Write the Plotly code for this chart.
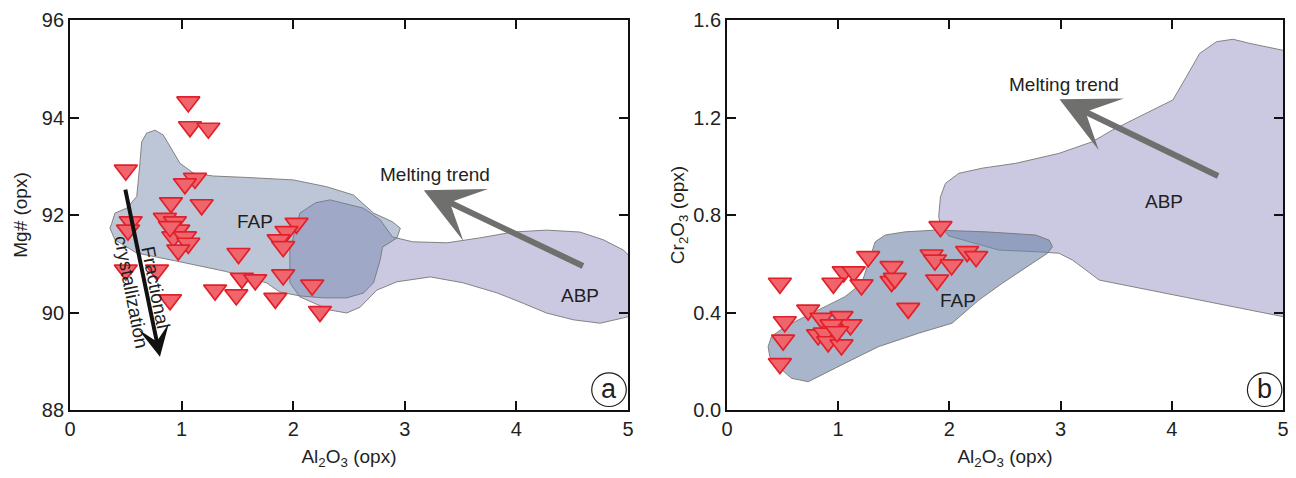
import plotly.graph_objects as go

# ---------------- data ----------------
# Panel a: Al2O3 (opx) vs Mg# (opx)
a_al2o3 = [1.06, 1.075, 1.24, 0.50, 1.12, 1.03, 1.18, 0.905, 0.544, 0.52, 0.85, 0.94, 0.97,
           0.926, 1.03, 1.06, 0.97, 0.896, 1.51, 2.03, 1.94, 1.87, 1.91, 0.50, 0.78, 1.54,
           1.66, 1.91, 2.17, 1.30, 1.49, 1.84, 0.896, 2.24]
a_mg = [94.32, 93.81, 93.78, 92.92, 92.75, 92.64, 92.21, 92.25, 91.86, 91.69, 91.93, 91.86, 91.69,
        91.55, 91.55, 91.42, 91.28, 91.76, 91.21, 91.83, 91.66, 91.49, 91.35, 90.87, 90.87, 90.70,
        90.67, 90.77, 90.56, 90.46, 90.36, 90.29, 90.26, 90.02]

# Panel b: Al2O3 (opx) vs Cr2O3 (opx)
b_al2o3 = [1.92, 0.476, 1.27, 1.05, 1.14, 0.957, 1.21, 1.48, 1.48, 1.51, 1.84, 1.87, 2.02, 2.16,
           2.24, 1.89, 1.63, 0.73, 0.52, 0.505, 0.476, 0.85, 1.03, 1.11, 0.94, 0.82, 0.88, 0.91,
           1.03, 0.99]
b_cr2o3 = [0.752, 0.52, 0.629, 0.567, 0.567, 0.52, 0.513, 0.588, 0.527, 0.54, 0.636, 0.615, 0.595,
           0.65, 0.629, 0.533, 0.417, 0.41, 0.362, 0.287, 0.19, 0.376, 0.383, 0.349, 0.349, 0.308,
           0.315, 0.28, 0.267, 0.321]

# Field outlines (panel a)
fap_a_x = [0.374, 0.403, 0.508, 0.598, 0.627, 0.642, 0.687, 0.762, 0.836, 0.896, 0.986, 1.105, 1.284,
           1.583, 2.0, 2.30, 2.54, 2.72, 2.89, 2.96, 2.93, 2.80, 2.78, 2.72, 2.63, 2.48, 2.27, 2.06,
           1.88, 1.76, 1.40, 0.986, 0.598, 0.403, 0.358, 0.374]
fap_a_y = [91.83, 92.04, 92.14, 92.38, 93.07, 93.50, 93.68, 93.74, 93.64, 93.40, 93.06, 92.86, 92.80,
           92.77, 92.72, 92.58, 92.41, 92.04, 91.86, 91.73, 91.53, 91.34, 91.08, 90.61, 90.40, 90.30,
           90.30, 90.34, 90.42, 90.61, 90.84, 91.04, 91.22, 91.49, 91.73, 91.83]
abp_a_x = [2.33, 2.63, 2.78, 2.89, 3.07, 3.38, 3.67, 3.97, 4.27, 4.57, 4.78, 4.96, 5.06, 5.06, 4.96,
           4.75, 4.51, 4.27, 4.06, 3.83, 3.52, 3.23, 2.93, 2.75, 2.60, 2.48, 2.33, 2.06, 1.97, 1.97,
           2.06, 2.20, 2.33]
abp_a_y = [92.31, 92.14, 91.90, 91.55, 91.45, 91.43, 91.53, 91.65, 91.69, 91.65, 91.49, 91.28, 91.04,
           89.95, 89.89, 89.78, 89.85, 89.99, 90.19, 90.40, 90.61, 90.73, 90.63, 90.46, 90.11, 89.99,
           90.05, 90.32, 90.61, 91.28, 92.04, 92.25, 92.31]

# Field outlines (panel b)
fap_b_x = [0.370, 0.400, 0.521, 0.821, 1.062, 1.212, 1.302, 1.333, 1.423, 1.604, 1.875, 2.326, 2.777,
           2.897, 2.927, 2.882, 2.746, 2.476, 2.265, 2.024, 1.724, 1.363, 1.062, 0.821, 0.731, 0.580,
           0.460, 0.385, 0.370]
fap_b_y = [0.260, 0.301, 0.342, 0.410, 0.465, 0.520, 0.643, 0.690, 0.718, 0.731, 0.738, 0.731, 0.718,
           0.697, 0.670, 0.643, 0.602, 0.520, 0.451, 0.356, 0.315, 0.260, 0.192, 0.137, 0.116, 0.130,
           0.178, 0.219, 0.260]
abp_b_x = [1.904, 1.92, 1.965, 2.085, 2.295, 2.597, 2.987, 3.288, 3.468, 3.770, 4.010, 4.131, 4.251,
           4.402, 4.551, 4.702, 4.853, 5.003, 5.06, 5.06, 5.003, 4.702, 4.251, 3.80, 3.348, 3.228,
           3.107, 2.987, 2.834, 2.446, 2.145, 1.995, 1.922, 1.904]
abp_b_y = [0.793, 0.875, 0.930, 0.971, 0.992, 1.012, 1.053, 1.101, 1.149, 1.217, 1.272, 1.367, 1.463,
           1.511, 1.521, 1.504, 1.490, 1.477, 1.47, 0.377, 0.383, 0.410, 0.451, 0.492, 0.533, 0.574,
           0.615, 0.643, 0.648, 0.656, 0.693, 0.714, 0.755, 0.793]

# Trend arrows (tail -> head)
melt_a = {"tail": (4.61, 90.94), "head": (3.17, 92.51)}
frac_a = {"tail": (0.493, 92.55), "head": (0.806, 89.09)}
melt_b = {"tail": (4.43, 0.957), "head": (2.99, 1.275)}

x_ticks = [0, 1, 2, 3, 4, 5]
ya_ticks = [88, 90, 92, 94, 96]
yb_ticks = [0.0, 0.4, 0.8, 1.2, 1.6]

# ---------------- styles ----------------
FONT = "Liberation Sans, Arial, sans-serif"
TXT = "#231f20"
ABP_FILL = "#cbc9e2"
FAP_A_FILL = "rgba(103,125,162,0.44)"
FAP_B_FILL = "rgba(110,132,167,0.60)"
EDGE = "rgba(120,120,120,0.9)"
MK = dict(symbol="triangle-down", size=20, color="#f0646c", line=dict(color="#e0202a", width=1.7))

fig = go.Figure()

def field(x, y, fill, xa, ya):
    fig.add_trace(go.Scatter(x=x, y=y, mode="lines", fill="toself", fillcolor=fill,
                             line=dict(color=EDGE, width=1), hoverinfo="skip", showlegend=False,
                             xaxis=xa, yaxis=ya))

field(abp_a_x, abp_a_y, ABP_FILL, "x", "y")
field(fap_a_x, fap_a_y, FAP_A_FILL, "x", "y")
field(abp_b_x, abp_b_y, ABP_FILL, "x2", "y2")
field(fap_b_x, fap_b_y, FAP_B_FILL, "x2", "y2")

fig.add_trace(go.Scatter(x=a_al2o3, y=a_mg, mode="markers", marker=MK, showlegend=False,
                         xaxis="x", yaxis="y"))
fig.add_trace(go.Scatter(x=b_al2o3, y=b_cr2o3, mode="markers", marker=MK, showlegend=False,
                         xaxis="x2", yaxis="y2"))

ann = []
def arrow(d, xr, yr, color, width, size):
    ann.append(dict(x=d["head"][0], y=d["head"][1], ax=d["tail"][0], ay=d["tail"][1],
                    xref=xr, yref=yr, axref=xr, ayref=yr, text="", showarrow=True,
                    arrowhead=3, arrowsize=size, arrowwidth=width, arrowcolor=color))

arrow(melt_a, "x", "y", "#6f6f6e", 6, 1.6)
arrow(frac_a, "x", "y", "#111111", 4, 1.3)
arrow(melt_b, "x2", "y2", "#6f6f6e", 6, 1.6)

def label(x, y, t, xr, yr, size=19, angle=0):
    ann.append(dict(x=x, y=y, xref=xr, yref=yr, text=t, showarrow=False, textangle=angle,
                    xanchor="center", yanchor="middle",
                    font=dict(family=FONT, size=size, color=TXT)))

label(3.27, 92.84, "Melting trend", "x", "y")
label(1.66, 91.86, "FAP", "x", "y")
label(4.57, 90.34, "ABP", "x", "y")
label(0.657, 90.46, "Fractional<br>crystallization", "x", "y", 19, 79)
label(3.03, 1.335, "Melting trend", "x2", "y2")
label(2.08, 0.451, "FAP", "x2", "y2")
label(3.93, 0.857, "ABP", "x2", "y2")

# panel letters
label(0.966, 0.054, "a", "x domain", "y domain", 27)
label(0.967, 0.054, "b", "x2 domain", "y2 domain", 27)
shapes = [
    dict(type="circle", xref="x domain", yref="y domain", x0=0.935, x1=0.997, y0=0.009, y1=0.095,
         line=dict(color=TXT, width=1.2)),
    dict(type="circle", xref="x2 domain", yref="y2 domain", x0=0.936, x1=0.998, y0=0.009, y1=0.095,
         line=dict(color=TXT, width=1.2)),
]

axis_common = dict(showline=True, linecolor="#111", linewidth=1.8, mirror="ticks", ticks="inside",
                   ticklen=9, tickwidth=1.8, tickcolor="#111", showgrid=False, zeroline=False,
                   automargin=False, ticklabeloverflow="allow",
                   tickfont=dict(family=FONT, size=20, color=TXT))
title_font = dict(family=FONT, size=19, color=TXT)

# page body has an 8px margin, so the figure is sized/offset to compensate
fig.update_layout(
    width=1280, height=462,
    margin=dict(l=62, r=5, t=12, b=60, autoexpand=False),
    showlegend=False,
    paper_bgcolor="white", plot_bgcolor="white",
    xaxis=dict(domain=[0, 0.46], range=[0, 5], tickvals=x_ticks, anchor="y",
               title=dict(text="Al<sub>2</sub>O<sub>3</sub> (opx)", font=title_font, standoff=17),
               **axis_common),
    yaxis=dict(domain=[0, 1], range=[88, 96], tickvals=ya_ticks, anchor="x",
               title=dict(text="Mg# (opx)", font=title_font, standoff=9), **axis_common),
    xaxis2=dict(domain=[0.5416, 1], range=[0, 5], tickvals=x_ticks, anchor="y2",
                title=dict(text="Al<sub>2</sub>O<sub>3</sub> (opx)", font=title_font, standoff=17),
                **axis_common),
    yaxis2=dict(domain=[0, 1], range=[0, 1.6], tickvals=yb_ticks, tickformat=".1f", anchor="x2",
                title=dict(text="Cr<sub>2</sub>O<sub>3</sub> (opx)", font=title_font, standoff=4),
                **axis_common),
    annotations=ann, shapes=shapes,
)

fig.write_html("out.html")
